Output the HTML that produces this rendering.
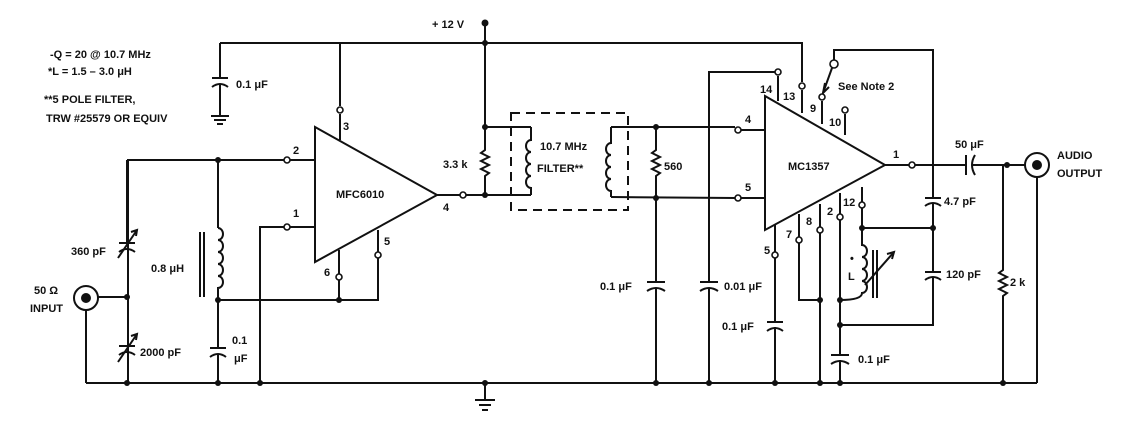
<!DOCTYPE html>
<html><head><meta charset="utf-8"><style>
html,body{margin:0;padding:0;background:#fff;}
svg{display:block;}
text{font-family:"Liberation Sans",sans-serif;font-weight:bold;font-size:11px;fill:#111;}
</style></head><body>
<svg width="1148" height="436" viewBox="0 0 1148 436" xmlns="http://www.w3.org/2000/svg">
<g stroke="#111" stroke-width="2" fill="none">
<polyline points="220,43 802,43 802,82"/>
<line x1="485" y1="23" x2="485" y2="127"/>
<line x1="220" y1="43" x2="220" y2="78"/>
<line x1="212" y1="78" x2="228" y2="78"/>
<path d="M212,87 Q220,81 228,87"/>
<line x1="220" y1="84" x2="220" y2="115"/>
<line x1="211" y1="116" x2="229" y2="116"/><line x1="214" y1="120" x2="226" y2="120"/><line x1="217" y1="124" x2="223" y2="124"/>
<polygon points="315,127 315,262 437,195"/>
<line x1="340" y1="43" x2="340" y2="106"/><line x1="340" y1="114" x2="340" y2="140"/>
<polyline points="128,383 128,160 284,160"/><line x1="290" y1="160" x2="315" y2="160"/>
<polyline points="260,383 260,227 284,227"/><line x1="290" y1="227" x2="315" y2="227"/>
<line x1="437" y1="195" x2="460" y2="195"/><line x1="466" y1="195" x2="485" y2="195"/>
<line x1="378" y1="230" x2="378" y2="252"/><polyline points="378,258 378,300 218,300"/>
<line x1="339" y1="250" x2="339" y2="274"/><line x1="339" y1="280" x2="339" y2="300"/>
<line x1="218" y1="160" x2="218" y2="228"/>
<path d="M218,228 a5,6 0 0 1 0,12 a5,6 0 0 1 0,12 a5,6 0 0 1 0,12 a5,6 0 0 1 0,12 a5,6 0 0 1 0,12 L218,300"/>
<line x1="200" y1="232" x2="200" y2="297"/><line x1="204" y1="232" x2="204" y2="297"/>
<line x1="218" y1="300" x2="218" y2="348"/>
<line x1="210" y1="348" x2="226" y2="348"/><path d="M210,357 Q218,351 226,357"/>
<line x1="218" y1="354" x2="218" y2="383"/>
<line x1="119" y1="243" x2="135" y2="243"/><path d="M119,252 Q127,246 135,252"/>
<line x1="118" y1="258" x2="137" y2="230"/><polyline points="131,232 137,230 136,236"/>
<line x1="119" y1="346" x2="135" y2="346"/><path d="M119,355 Q127,349 135,355"/>
<line x1="118" y1="362" x2="137" y2="334"/><polyline points="131,336 137,334 136,340"/>
<line x1="127" y1="243" x2="127" y2="160"/>
<circle cx="86" cy="298" r="12"/><circle cx="86" cy="298" r="4" fill="#111"/>
<line x1="98" y1="297" x2="127" y2="297"/>
<line x1="86" y1="310" x2="86" y2="383"/>
<line x1="86" y1="383" x2="1037" y2="383"/>
<line x1="485" y1="383" x2="485" y2="400"/>
<line x1="475" y1="400" x2="495" y2="400"/><line x1="479" y1="405" x2="491" y2="405"/><line x1="482" y1="410" x2="488" y2="410"/>
<path d="M485,127 L485,150 l-4,3 l8,4 l-8,4 l8,4 l-8,4 l8,4 l-4,3 L485,195"/>
<line x1="485" y1="127" x2="531" y2="127"/><line x1="485" y1="195" x2="531" y2="195"/>
<path d="M531,127 L531,140 a5,6 0 0 0 0,12 a5,6 0 0 0 0,12 a5,6 0 0 0 0,12 a5,6 0 0 0 0,12 L531,195"/>
<rect x="511" y="113" width="117" height="97" stroke-dasharray="9,6"/>
<path d="M611,127 L611,143 a5,6 0 0 0 0,12 a5,6 0 0 0 0,12 a5,6 0 0 0 0,12 a5,6 0 0 0 0,12 L611,197"/>
<polyline points="611,127 735,127"/><line x1="741" y1="130" x2="765" y2="130"/>
<polyline points="611,197 735,198"/><line x1="741" y1="198" x2="765" y2="198"/>
<path d="M656,127 L656,150 l-4,3 l8,4 l-8,4 l8,4 l-8,4 l8,4 l-4,3 L656,198"/>
<line x1="656" y1="198" x2="656" y2="282"/>
<line x1="647" y1="282" x2="665" y2="282"/><path d="M647,291 Q656,285 665,291"/>
<line x1="656" y1="288" x2="656" y2="383"/>
<polyline points="775,72 709,72 709,282"/>
<line x1="700" y1="282" x2="718" y2="282"/><path d="M700,291 Q709,285 718,291"/>
<line x1="709" y1="288" x2="709" y2="383"/>
<polygon points="765,96 765,230 885,165"/>
<line x1="778" y1="76" x2="778" y2="101"/>
<line x1="802" y1="90" x2="802" y2="113"/>
<line x1="822" y1="101" x2="822" y2="124"/>
<line x1="823" y1="93" x2="832" y2="68"/><polyline points="825,83 823,93 829,87"/>
<polyline points="834,60 834,50 933,50 933,198"/>
<line x1="845" y1="114" x2="845" y2="135"/>
<line x1="885" y1="165" x2="909" y2="165"/><line x1="915" y1="165" x2="966" y2="165"/>
<line x1="966" y1="155" x2="966" y2="175"/><path d="M975,155 Q969,165 975,175"/>
<line x1="972" y1="165" x2="1025" y2="165"/>
<circle cx="1037" cy="165" r="12"/><circle cx="1037" cy="165" r="4" fill="#111"/>
<line x1="1037" y1="177" x2="1037" y2="383"/>
<path d="M1003,165 L1003,270 l-4,3 l8,4 l-8,4 l8,4 l-8,4 l8,4 l-4,3 L1003,383"/>
<line x1="925" y1="198" x2="941" y2="198"/><path d="M925,206 Q933,200 941,206"/>
<line x1="933" y1="203" x2="933" y2="272"/>
<line x1="925" y1="272" x2="941" y2="272"/><path d="M925,280 Q933,274 941,280"/>
<polyline points="933,277 933,325 840,325"/>
<line x1="862" y1="208" x2="862" y2="228"/><line x1="862" y1="187" x2="862" y2="202"/>
<line x1="862" y1="228" x2="933" y2="228"/>
<path d="M862,228 L862,245 a5,6 0 0 1 0,12 a5,6 0 0 1 0,12 a5,6 0 0 1 0,12 a5,6 0 0 1 0,12 Q862,300 840,300"/>
<line x1="873" y1="250" x2="873" y2="298"/><line x1="877" y1="250" x2="877" y2="298"/>
<line x1="865" y1="285" x2="894" y2="252"/><polyline points="887,254 894,252 892,259"/>
<line x1="840" y1="193" x2="840" y2="214"/><line x1="840" y1="220" x2="840" y2="355"/>
<line x1="831" y1="355" x2="849" y2="355"/><path d="M831,364 Q840,358 849,364"/>
<line x1="840" y1="360" x2="840" y2="383"/>
<line x1="820" y1="204" x2="820" y2="227"/><line x1="820" y1="233" x2="820" y2="383"/>
<line x1="799" y1="214" x2="799" y2="237"/><polyline points="799,243 799,300 820,300"/>
<line x1="775" y1="225" x2="775" y2="252"/><line x1="775" y1="258" x2="775" y2="322"/>
<line x1="767" y1="322" x2="783" y2="322"/><path d="M767,331 Q775,325 783,331"/>
<line x1="775" y1="327" x2="775" y2="383"/>
</g>
<g stroke="#111" stroke-width="1.6" fill="#fff">
<circle cx="340" cy="110" r="3"/><circle cx="287" cy="160" r="3"/><circle cx="287" cy="227" r="3"/>
<circle cx="463" cy="195" r="3"/><circle cx="378" cy="255" r="3"/><circle cx="339" cy="277" r="3"/>
<circle cx="738" cy="130" r="3"/><circle cx="738" cy="198" r="3"/><circle cx="778" cy="72" r="3"/>
<circle cx="802" cy="86" r="3"/><circle cx="822" cy="97" r="3"/><circle cx="834" cy="64" r="4"/>
<circle cx="845" cy="110" r="3"/><circle cx="912" cy="165" r="3"/><circle cx="862" cy="205" r="3"/>
<circle cx="840" cy="217" r="3"/><circle cx="820" cy="230" r="3"/><circle cx="799" cy="240" r="3"/>
<circle cx="775" cy="255" r="3"/>
</g>
<g fill="#111">
<circle cx="485" cy="23" r="3.5"/><circle cx="485" cy="43" r="3"/><circle cx="485" cy="127" r="3"/><circle cx="485" cy="195" r="3"/>
<circle cx="218" cy="160" r="3"/><circle cx="218" cy="300" r="3"/><circle cx="339" cy="300" r="3"/><circle cx="127" cy="297" r="3"/>
<circle cx="127" cy="383" r="3"/><circle cx="218" cy="383" r="3"/><circle cx="260" cy="383" r="3"/><circle cx="485" cy="383" r="3"/>
<circle cx="656" cy="127" r="3"/><circle cx="656" cy="198" r="3"/><circle cx="656" cy="383" r="3"/><circle cx="709" cy="383" r="3"/>
<circle cx="775" cy="383" r="3"/><circle cx="820" cy="383" r="3"/><circle cx="840" cy="383" r="3"/><circle cx="1003" cy="383" r="3"/>
<circle cx="820" cy="300" r="3"/><circle cx="840" cy="300" r="3"/><circle cx="840" cy="325" r="3"/><circle cx="862" cy="228" r="3"/>
<circle cx="933" cy="228" r="3"/><circle cx="1007" cy="165" r="3"/>
</g>
<text x="50" y="58">-Q = 20 @ 10.7 MHz</text>
<text x="48" y="75">*L = 1.5 – 3.0 μH</text>
<text x="44" y="103">**5 POLE FILTER,</text>
<text x="46" y="122">TRW #25579 OR EQUIV</text>
<text x="236" y="88">0.1 μF</text>
<text x="432" y="28">+ 12 V</text>
<text x="293" y="154">2</text><text x="293" y="217">1</text><text x="343" y="130">3</text>
<text x="384" y="245">5</text><text x="324" y="276">6</text><text x="443" y="211">4</text>
<text x="336" y="198">MFC6010</text>
<text x="71" y="255">360 pF</text><text x="140" y="356">2000 pF</text>
<text x="151" y="272">0.8 μH</text>
<text x="232" y="344">0.1</text><text x="234" y="362">μF</text>
<text x="34" y="294">50 Ω</text><text x="30" y="312">INPUT</text>
<text x="443" y="168">3.3 k</text>
<text x="540" y="150">10.7 MHz</text><text x="537" y="172">FILTER**</text>
<text x="664" y="170">560</text>
<text x="745" y="123">4</text><text x="745" y="191">5</text>
<text x="788" y="170">MC1357</text>
<text x="760" y="93">14</text><text x="783" y="100">13</text><text x="810" y="112">9</text><text x="829" y="126">10</text>
<text x="893" y="158">1</text>
<text x="838" y="90">See Note 2</text>
<text x="843" y="206">12</text><text x="827" y="215">2</text><text x="806" y="225">8</text><text x="786" y="238">7</text><text x="764" y="254">5</text>
<text x="848" y="280">L</text><text x="850" y="262">•</text>
<text x="600" y="290">0.1 μF</text><text x="724" y="290">0.01 μF</text>
<text x="722" y="330">0.1 μF</text><text x="858" y="363">0.1 μF</text>
<text x="944" y="205">4.7 pF</text><text x="946" y="278">120 pF</text>
<text x="955" y="148">50 μF</text>
<text x="1010" y="286">2 k</text>
<text x="1057" y="159">AUDIO</text><text x="1057" y="177">OUTPUT</text>
</svg>
</body></html>
